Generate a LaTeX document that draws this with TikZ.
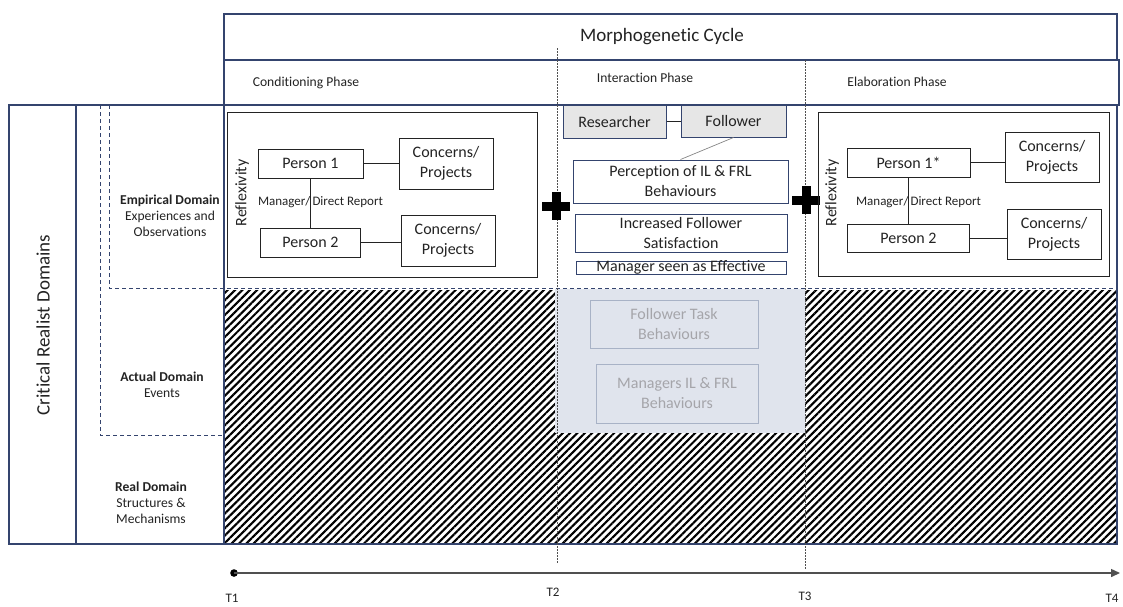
\documentclass[tikz,border=0pt]{standalone}
\usepackage{fontspec}
\setmainfont{Carlito}[Ligatures=NoCommon]
\usetikzlibrary{patterns.meta,arrows.meta}

\definecolor{frameblue}{RGB}{52,68,110}
\definecolor{ink}{RGB}{35,35,35}
\definecolor{mist}{RGB}{224,228,237}
\definecolor{mistedge}{RGB}{168,178,198}
\definecolor{misttext}{RGB}{165,165,170}
\definecolor{chip}{RGB}{230,230,230}
\definecolor{rule}{RGB}{80,80,80}

\begin{document}
\begin{tikzpicture}[x=1pt,y=-1pt,
  t19/.style={font=\fontsize{19}{23}\selectfont},
  t16/.style={font=\fontsize{16}{20}\selectfont},
  t14/.style={font=\fontsize{13.6}{16}\selectfont},
  t13/.style={font=\fontsize{13}{16}\selectfont},
  wh/.style 2 args={minimum width=#1pt,minimum height=#2pt},
  panel/.style={draw=ink, line width=1pt, inner sep=0pt},
  pbox/.style={draw=ink, line width=1pt, inner sep=0pt, align=center, t16, text=ink},
  ibox/.style={draw=frameblue, line width=1pt, inner sep=0pt, align=center, t16, text=ink},
  gbox/.style={draw=mistedge, line width=1pt, inner sep=0pt, align=center, t16, text=misttext},
  chipbox/.style={ibox, fill=chip},
  link/.style={draw=ink, line width=0.9pt},
  frameline/.style={draw=frameblue, line width=1.1pt},
  dashframe/.style={draw=frameblue, line width=1pt, dash pattern=on 4pt off 3pt},
  tick/.style={draw=rule, line width=1pt, dash pattern=on 1.5pt off 1.5pt},
  lbl/.style={text=ink, inner sep=0pt, align=center},
]
\useasboundingbox (0,0) rectangle (1123,606);

% hatched band of the actual and real domains, with the observed events cut out
\fill[pattern={Lines[angle=45,distance=5.2pt,line width=2.1pt]}, pattern color=black]
  (224,290) rectangle (1117,544);
\fill[mist] (555,289) rectangle (805,433);

% frame of the domains and of the cycle
\draw[frameline] (9,105) rectangle (1117,544);
\draw[frameline] (76,105) -- (76,544);
\draw[frameline] (224,14) -- (224,544);
\draw[frameline] (224,14) rectangle (1117,60);
\draw[frameline] (224,60) rectangle (1119,105);

% empirical and actual domain borders
\draw[dashframe] (109,105) -- (109,288) -- (1117,288);
\draw[dashframe] (100,105) -- (100,435) -- (224,435);

% phase boundaries
\draw[tick] (557,48) -- (557,563);
\draw[tick] (805,60) -- (805,570);

% headings
\node[lbl, t19] (cycle) at (662,37) {Morphogenetic Cycle};
\node[lbl, t14] (cond) at (306,83) {Conditioning Phase};
\node[lbl, t14] (inter) at (645,78) {Interaction Phase};
\node[lbl, t14] (elab) at (897,82) {Elaboration Phase};

\node[lbl, t19, rotate=90] (crd) at (43,325) {Critical Realist Domains};
\node[lbl, t14] (emp) at (170,216) {\textbf{Empirical Domain}\\Experiences and\\Observations};
\node[lbl, t14] (act) at (162,385) {\textbf{Actual Domain}\\Events};
\node[lbl, t14] (real) at (151,503) {\textbf{Real Domain}\\Structures \&\\Mechanisms};

% conditioning phase
\node[panel, wh={310}{165}] (panelL) at (382,194.5) {};
\node[lbl, t16, rotate=90] (reflL) at (242,193) {Reflexivity};
\node[pbox, wh={105}{29}] (p1) at (310.5,163.5) {Person 1};
\node[pbox, wh={94}{51}] (c1) at (446,163.5) {Concerns/\\Projects};
\node[pbox, wh={100}{29}] (p2) at (310.5,242.5) {Person 2};
\node[pbox, wh={94}{51}] (c2) at (448,240.5) {Concerns/\\Projects};
\draw[link] (p1.east) -- (c1.west |- p1.east);
\draw[link] (p2.east) -- (c2.west |- p2.east);
\draw[link] (p1.south) -- (p1.south |- p2.north);
\node[lbl, t13] (relL) at (311.5,202) {\llap{Manager/}\hspace{2pt}\rlap{Direct Report}};

% interaction phase
\node[chipbox, wh={103}{33}] (res) at (614.5,121.5) {Researcher};
\node[chipbox, wh={105}{32}] (fol) at (733.5,121) {Follower};
\draw[link] (res.east) -- (fol.west |- res.east);
\node[ibox, wh={215}{43}] (perc) at (680.5,181.5) {Perception of IL \& FRL\\Behaviours};
\draw[draw=rule!70, line width=0.7pt] (fol.south) -- (perc.north);
\node[ibox, wh={212}{38}] (sat) at (681,233) {Increased Follower\\Satisfaction};
\node[ibox, wh={210}{13}, text height=9pt, text depth=2pt] (eff) at (681,267.5) {Manager seen as Effective};
\node[gbox, wh={168}{48}] (task) at (674,324) {Follower Task\\Behaviours};
\node[gbox, wh={162}{59}] (mgr) at (677,393.5) {Managers IL \& FRL\\Behaviours};

% plus signs at the phase boundaries
\fill[black] (551.5,192) rectangle (560.5,220);
\fill[black] (542,201.5) rectangle (570,210.5);
\fill[black] (801.5,186) rectangle (810.5,214);
\fill[black] (792,195.5) rectangle (820,204.5);

% elaboration phase
\node[panel, wh={291}{164}] (panelR) at (963.5,194) {};
\node[lbl, t16, rotate=90] (reflR) at (832,193) {Reflexivity};
\node[pbox, wh={123}{29}] (q1) at (908.5,162.5) {Person 1*};
\node[pbox, wh={94}{50}] (d1) at (1052,157) {Concerns/\\Projects};
\node[pbox, wh={122}{28}] (q2) at (908.5,238) {Person 2};
\node[pbox, wh={94}{50}] (d2) at (1054,234) {Concerns/\\Projects};
\draw[link] (q1.east) -- (d1.west |- q1.east);
\draw[link] (q2.east) -- (d2.west |- q2.east);
\draw[link] (q1.south) -- (q1.south |- q2.north);
\node[lbl, t13] (relR) at (909.5,202) {\llap{Manager/}\hspace{2pt}\rlap{Direct Report}};

% time line
\coordinate (tstart) at (234,573);
\coordinate (tend) at (1120,573);
\fill[black] (tstart) circle (3.8pt);
\draw[rule, line width=1.4pt, -{Triangle[length=9pt,width=8pt]}] (tstart) -- (tend);
\node[lbl, t13] (T1) at (232,598) {T1};
\node[lbl, t13] (T2) at (553,592) {T2};
\node[lbl, t13] (T3) at (805,596) {T3};
\node[lbl, t13] (T4) at (1112,598) {T4};
\end{tikzpicture}
\end{document}
